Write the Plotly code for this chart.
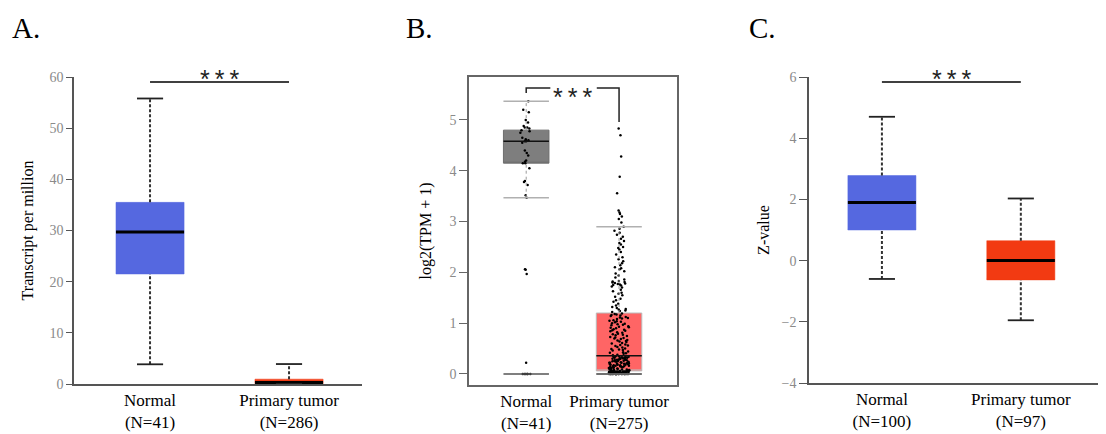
import plotly.graph_objects as go

# ---------------- data ----------------
groups = ["Normal", "Primary tumor"]
positions = [0, 1]

# Panel A: Transcript per million
a_n = [41, 286]
a_lower = [3.85, 0.0]
a_q1 = [21.5, 0.05]
a_median = [29.7, 0.3]
a_q3 = [35.5, 0.95]
a_upper = [55.8, 3.9]

# Panel B: log2(TPM + 1)
b_n = [41, 275]
b_lower = [3.47, 0.0]
b_q1 = [4.15, 0.06]
b_median = [4.58, 0.36]
b_q3 = [4.80, 1.20]
b_upper = [5.37, 2.90]
b_floor = [0.0, 0.0]

b_normal_points = [5.37, 5.20, 5.15, 5.00, 4.95, 4.88, 4.85, 4.85, 4.83, 4.80,
                   4.78, 4.75, 4.65, 4.62, 4.60, 4.58, 4.58, 4.55, 4.40, 4.35,
                   4.30, 4.20, 4.18, 4.15, 4.15, 4.05, 3.80, 3.78, 3.72, 3.52,
                   3.47, 2.06, 2.05, 1.97, 0.22, 0.0, 0.0, 0.0, 0.0, 0.0, 0.0]

b_tumor_points = [
    0, 0, 0, 0, 0, 0, 0, 0, 0, 0,
    0, 0, 0, 0, 0, 0, 0, 0, 0, 0,
    0.01, 0.01, 0.01, 0.01, 0.01, 0.01, 0.01, 0.01, 0.01, 0.01,
    0.02, 0.02, 0.02, 0.02, 0.02, 0.02, 0.02, 0.02, 0.02, 0.02,
    0.03, 0.03, 0.03, 0.03, 0.03, 0.03, 0.03, 0.03, 0.04, 0.04,
    0.04, 0.04, 0.04, 0.04, 0.04, 0.04, 0.05, 0.05, 0.05, 0.05,
    0.05, 0.05, 0.05, 0.05, 0.05, 0.05, 0.05, 0.05, 0.05,
    0.06, 0.07, 0.07, 0.08, 0.09, 0.09, 0.10, 0.11, 0.12, 0.12,
    0.13, 0.14, 0.14, 0.15, 0.16, 0.17, 0.17, 0.18, 0.19, 0.20,
    0.20, 0.21, 0.22, 0.22, 0.23, 0.24, 0.25, 0.25, 0.26, 0.27,
    0.27, 0.28, 0.29, 0.30, 0.30, 0.31, 0.32, 0.33, 0.33, 0.34,
    0.35, 0.35, 0.06, 0.08, 0.10, 0.13, 0.15, 0.18, 0.21, 0.23,
    0.26, 0.28, 0.31, 0.34, 0.11, 0.16, 0.19, 0.24, 0.29, 0.32,
    0.12, 0.18, 0.22, 0.27, 0.31, 0.08, 0.15, 0.25, 0.33,
    0.37, 0.38, 0.40, 0.41, 0.43, 0.44, 0.46, 0.47, 0.49, 0.50,
    0.52, 0.53, 0.55, 0.56, 0.58, 0.60, 0.61, 0.63, 0.64, 0.66,
    0.67, 0.69, 0.70, 0.72, 0.73, 0.75, 0.76, 0.78, 0.79, 0.81,
    0.82, 0.84, 0.85, 0.87, 0.88, 0.90, 0.91, 0.93, 0.94, 0.96,
    0.97, 0.99, 1.00, 1.02, 1.03, 1.05, 1.06, 1.08, 1.09, 1.11,
    1.12, 1.14, 1.15, 1.17, 1.18, 1.19, 0.42, 0.57, 0.71, 0.86,
    0.98, 1.10, 0.65, 0.92, 0.48, 0.77, 1.04, 1.16,
    1.22, 1.24, 1.25, 1.27, 1.28, 1.30, 1.32, 1.35, 1.38, 1.42,
    1.45, 1.48, 1.52, 1.55, 1.58, 1.60, 1.63, 1.66, 1.70, 1.72,
    1.74, 1.76, 1.77, 1.78, 1.79, 1.80, 1.81, 1.83, 1.86, 1.90,
    1.94, 1.98, 2.02, 2.06, 2.10, 2.14, 2.18, 2.22, 2.26, 2.30,
    2.35, 2.40, 2.45, 2.50, 2.55, 2.58, 2.62, 2.66, 2.70, 2.74,
    2.78, 2.82, 2.86, 2.90, 1.75, 1.82, 2.08, 2.48,
    4.83, 4.70, 4.28, 3.88, 3.56, 3.22, 3.18, 3.15, 3.10, 3.05, 2.98,
]

# Panel C: Z-value
c_n = [100, 97]
c_lower = [-0.60, -1.95]
c_q1 = [1.00, -0.63]
c_median = [1.90, 0.00]
c_q3 = [2.78, 0.65]
c_upper = [4.70, 2.03]

a_ticks = [0, 10, 20, 30, 40, 50, 60]
b_ticks = [0, 1, 2, 3, 4, 5]
c_ticks = [-4, -2, 0, 2, 4, 6]

# ---------------- styling ----------------
SERIF = "Liberation Serif, serif"
SANS = "Liberation Sans, Arial, sans-serif"
BLUE = "#5568E0"
RED_A = "#F03C16"
RED_C = "#F23A12"
GRAY_B = "#7E7E7E"
RED_B = "#FF6565"
BOXW = 0.49
CAPW = 0.094

W, H = 1106, 434
OFF = 8  # page body margin


def px(xp):
    return (xp - OFF) / W


def py(yp):
    return 1 - (yp - OFF) / H


fig = go.Figure()


def add_panel_boxes(xa, ya, lower, q1, med, q3, upper, colors):
    for i, p in enumerate(positions):
        fig.add_trace(go.Box(
            x=[p], q1=[q1[i]], median=[q1[i]], q3=[q3[i]],
            lowerfence=[q1[i]], upperfence=[q3[i]],
            width=BOXW, fillcolor=colors[i], line=dict(color=colors[i], width=0.5),
            whiskerwidth=0, showlegend=False, hoverinfo="skip",
            xaxis=xa, yaxis=ya))
        fig.add_trace(go.Scatter(
            x=[p - BOXW / 2, p + BOXW / 2], y=[med[i], med[i]], mode="lines",
            line=dict(color="black", width=3), showlegend=False,
            hoverinfo="skip", xaxis=xa, yaxis=ya))
        for lo, hi in ((q3[i], upper[i]), (lower[i], q1[i])):
            if hi > lo:
                fig.add_trace(go.Scatter(
                    x=[p, p], y=[lo, hi], mode="lines",
                    line=dict(color="#333333", width=2, dash="3px,2px"),
                    showlegend=False, hoverinfo="skip", xaxis=xa, yaxis=ya))
        for v in (lower[i], upper[i]):
            fig.add_trace(go.Scatter(
                x=[p - CAPW, p + CAPW], y=[v, v], mode="lines",
                line=dict(color="#222222", width=1.8),
                showlegend=False, hoverinfo="skip", xaxis=xa, yaxis=ya))


add_panel_boxes("x", "y", a_lower, a_q1, a_median, a_q3, a_upper, [BLUE, RED_A])

# Panel B boxes (GEPIA style)
for i, p in enumerate(positions):
    fig.add_trace(go.Box(
        x=[p], q1=[b_q1[i]], median=[b_q1[i]], q3=[b_q3[i]],
        lowerfence=[b_q1[i]], upperfence=[b_q3[i]],
        width=BOXW, fillcolor=[GRAY_B, RED_B][i],
        line=dict(color=["#6e6e6e", "#bbbbbb"][i], width=1),
        whiskerwidth=0, showlegend=False, hoverinfo="skip",
        xaxis="x2", yaxis="y2"))
    fig.add_trace(go.Scatter(
        x=[p - BOXW / 2, p + BOXW / 2], y=[b_median[i], b_median[i]], mode="lines",
        line=dict(color="#111111", width=1.5), showlegend=False,
        hoverinfo="skip", xaxis="x2", yaxis="y2"))
    fig.add_trace(go.Scatter(
        x=[p, p], y=[b_q3[i], b_upper[i]], mode="lines",
        line=dict(color="#9a9a9a", width=1, dash="dot"),
        showlegend=False, hoverinfo="skip", xaxis="x2", yaxis="y2"))
    if i == 0:
        fig.add_trace(go.Scatter(
            x=[p, p], y=[b_lower[i], b_q1[i]], mode="lines",
            line=dict(color="#9a9a9a", width=1, dash="dot"),
            showlegend=False, hoverinfo="skip", xaxis="x2", yaxis="y2"))
    for v in (b_upper[i], b_lower[i]):
        fig.add_trace(go.Scatter(
            x=[p - BOXW / 2, p + BOXW / 2], y=[v, v], mode="lines",
            line=dict(color="#b0b0b0", width=1.5),
            showlegend=False, hoverinfo="skip", xaxis="x2", yaxis="y2"))
    fig.add_trace(go.Scatter(
        x=[p - BOXW / 2, p + BOXW / 2], y=[b_floor[i], b_floor[i]], mode="lines",
        line=dict(color="#555555", width=1.5),
        showlegend=False, hoverinfo="skip", xaxis="x2", yaxis="y2"))

for p, pts, jit in ((0, b_normal_points, 0.35), (1, b_tumor_points, 0.45)):
    fig.add_trace(go.Box(
        x=[p] * len(pts), y=pts, width=BOXW, boxpoints="all", jitter=jit, pointpos=0,
        fillcolor="rgba(0,0,0,0)", line=dict(color="rgba(0,0,0,0)", width=0),
        marker=dict(color="black", size=2.5), showlegend=False, hoverinfo="skip",
        xaxis="x2", yaxis="y2"))

add_panel_boxes("x3", "y3", c_lower, c_q1, c_median, c_q3, c_upper, [BLUE, RED_C])

# ---------------- axes ----------------
tickfont = dict(family=SERIF, size=14, color="#8a8a8a")
labfont = dict(family=SERIF, size=17, color="black")
titlefont = dict(family=SERIF, size=16, color="black")


def xlabels(ns):
    return [f"{g}<br>(N={n})" for g, n in zip(groups, ns)]


common_x = dict(showgrid=False, zeroline=False, ticks="", tickfont=labfont,
                tickvals=positions, fixedrange=True, automargin=False)
common_y = dict(showgrid=False, zeroline=False, ticks="outside", tickfont=tickfont,
                showline=True, linewidth=1.5, automargin=False, fixedrange=True)

fig.update_layout(
    xaxis=dict(domain=[px(74), px(362)], range=[-0.547, 1.525], anchor="y",
               ticktext=xlabels(a_n), showline=True, linecolor="#555555",
               linewidth=1.5, **common_x),
    yaxis=dict(domain=[py(384), py(77)], range=[0, 60], anchor="x",
               tickvals=a_ticks, linecolor="#555555", ticklen=6, tickcolor="#555555",
               title=dict(text="Transcript per million", font=titlefont, standoff=12),
               **common_y),
    xaxis2=dict(domain=[px(469), px(677)], range=[-0.616, 1.624], anchor="y2",
                ticktext=xlabels(b_n), showline=True, mirror=True, linecolor="#666666",
                linewidth=1.5, **common_x),
    yaxis2=dict(domain=[py(385), py(77)], range=[-0.217, 5.846], anchor="x2",
                tickvals=b_ticks, mirror=True, linecolor="#666666", ticklen=8,
                tickcolor="#666666",
                title=dict(text="log2(TPM + 1)", font=titlefont, standoff=14),
                **common_y),
    xaxis3=dict(domain=[px(809), px(1105)], range=[-0.525, 1.606], anchor="y3",
                ticktext=xlabels(c_n), showline=True, linecolor="#555555",
                linewidth=1.5, **common_x),
    yaxis3=dict(domain=[py(383), py(77)], range=[-4, 6], anchor="x3",
                tickvals=c_ticks, linecolor="#555555", ticklen=8, tickcolor="#555555",
                title=dict(text="Z-value", font=titlefont, standoff=8),
                **common_y),
    width=W, height=H, margin=dict(l=0, r=0, t=0, b=0, autoexpand=False),
    paper_bgcolor="white", plot_bgcolor="white", boxmode="overlay",
    showlegend=False, font=dict(family=SERIF),
)

# significance marks
shape_line = dict(color="black", width=1.5)
fig.add_shape(type="line", xref="x", yref="y", x0=0, x1=1, y0=59, y1=59, line=shape_line)
fig.add_shape(type="line", xref="x3", yref="y3", x0=0, x1=1, y0=5.84, y1=5.84, line=shape_line)
fig.add_shape(type="path", xref="x2", yref="y2",
              path="M 0,5.53 L 0,5.63 L 0.26,5.63", line=dict(color="#222222", width=1.5))
fig.add_shape(type="path", xref="x2", yref="y2",
              path="M 0.76,5.63 L 1,5.63 L 1,4.96", line=dict(color="#222222", width=1.5))

star_font = dict(family=SANS, size=25, color="#222222")
for xr, yp in (("x", 79), ("x2", 97), ("x3", 79)):
    fig.add_annotation(text="*\u2009*\u2009*", xref=xr, yref="paper", x=0.5, y=py(yp),
                       showarrow=False, font=star_font, xanchor="center", yanchor="middle")

for lbl, xp in (("A.", 10), ("B.", 404), ("C.", 747)):
    fig.add_annotation(text=lbl, xref="paper", yref="paper", x=px(xp), y=py(28),
                       showarrow=False, xanchor="left", yanchor="middle",
                       font=dict(family=SERIF, size=29, color="black"))

fig.write_html("out.html")
